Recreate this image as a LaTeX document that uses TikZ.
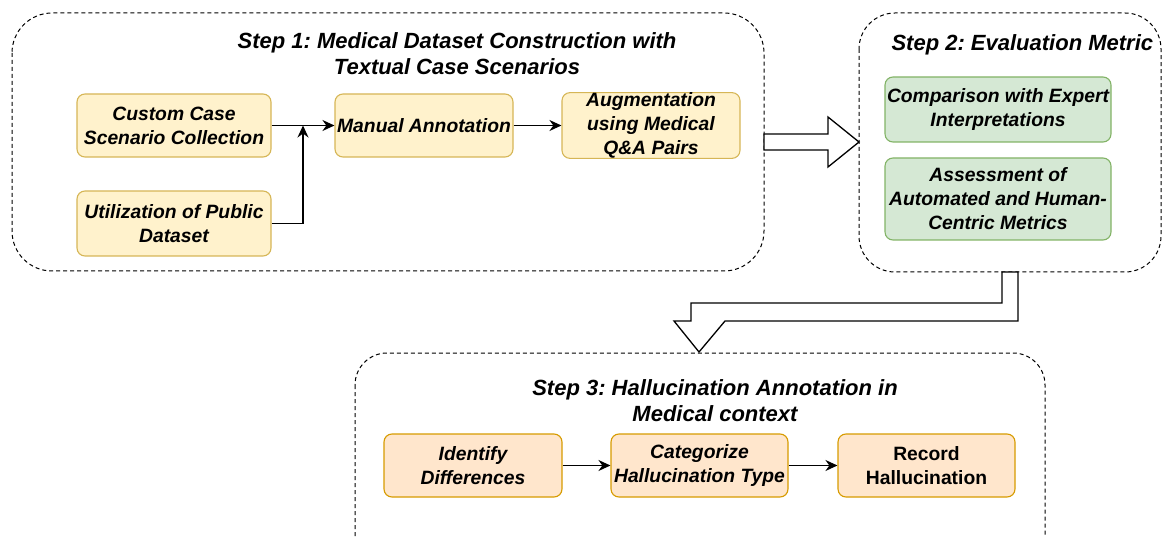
\documentclass[tikz,border=0pt]{standalone}
\usepackage{fontspec}
\setmainfont{Liberation Sans}
\usetikzlibrary{arrows.meta}
\definecolor{yfill}{HTML}{FFF2CC}
\definecolor{ydraw}{HTML}{D6B656}
\definecolor{gfill}{HTML}{D5E8D4}
\definecolor{gdraw}{HTML}{82B366}
\definecolor{ofill}{HTML}{FFE6CC}
\definecolor{odraw}{HTML}{D79B00}
\frenchspacing
\tikzset{
  px/.style={x=1pt,y=-1pt},
  stage/.style={draw=black,dash pattern=on 4pt off 3pt,line width=1pt},
  box/.style={draw,rounded corners=8pt,line width=1.1pt,align=center,inner sep=0pt,
    font=\fontsize{19.3}{24}\selectfont\bfseries\itshape},
  ybox/.style={box,fill=yfill,draw=ydraw},
  gbox/.style={box,fill=gfill,draw=gdraw},
  obox/.style={box,fill=ofill,draw=odraw},
  title/.style={align=center,font=\fontsize{22}{26}\selectfont\bfseries\itshape},
  conn/.style={-{Stealth[length=12pt,width=11pt]},line width=1.4pt},
  block/.style={draw=black,fill=white,line width=1.3pt,line join=miter}
}
\begin{document}
\begin{tikzpicture}[px]
\useasboundingbox (0,0) rectangle (1162,537);
% stage frames
\draw[stage,rounded corners=40pt] (12,13) rectangle (764,271);
\draw[stage,rounded corners=36pt] (859,13) rectangle (1161,272);
\draw[stage,rounded corners=32pt] (355,353) rectangle (1045,580);

% titles
\node[title] (t1) at (457,54) {Step 1: Medical Dataset Construction with\\Textual Case Scenarios};
\node[title,anchor=west] (t2) at (888,45) {Step 2: Evaluation Metric};
\node[title] (t3) at (715,400.5) {Step 3: Hallucination Annotation in\\Medical context};

% step 1 nodes
\node[ybox,minimum width=194pt,minimum height=63pt] (cc) at (174,125.5) {Custom Case\\Scenario Collection};
\node[ybox,minimum width=194pt,minimum height=65pt] (up) at (174,223.5) {Utilization of Public\\Dataset};
\node[ybox,minimum width=178pt,minimum height=63pt] (ma) at (424,125.5) {Manual Annotation};
\node[ybox,minimum width=178pt,minimum height=63pt] (au) at (651,125.5) {Augmentation\\using Medical\\Q\&A Pairs};
\coordinate (j) at (303,125.5);
\draw[conn] (cc) -- (ma);
\draw[conn] (up.east) -| (j);
\draw[conn] (au.west -| ma.east) -- (au.west);

% step 2 nodes
\node[gbox,minimum width=226pt,minimum height=65pt] (ce) at (998,109.5) {Comparison with Expert\\Interpretations};
\node[gbox,minimum width=226pt,minimum height=82pt] (as) at (998,199) {Assessment of\\Automated and Human-\\Centric Metrics};

% step 3 nodes
\node[obox,minimum width=178pt,minimum height=63pt] (id) at (473,465.5) {Identify\\Differences};
\node[obox,minimum width=177pt,minimum height=63pt] (ca) at (699.5,465.5) {Categorize\\Hallucination Type};
\node[obox,minimum width=177pt,minimum height=63pt,font=\fontsize{19.3}{24}\selectfont\bfseries] (rh) at (926.5,465.5) {Record\\Hallucination};
\draw[conn] (id) -- (ca);
\draw[conn] (ca) -- (rh);

% block arrows
\draw[block] (764,134) -- (828,134) -- (828,117) -- (859,142) -- (828,167) -- (828,150) -- (764,150) -- cycle;
\draw[block] (1002,272) -- (1018,272) -- (1018,321) -- (725,321) -- (699,352) -- (674,321) -- (691,321) -- (691,303) -- (1002,303) -- cycle;
\end{tikzpicture}
\end{document}
